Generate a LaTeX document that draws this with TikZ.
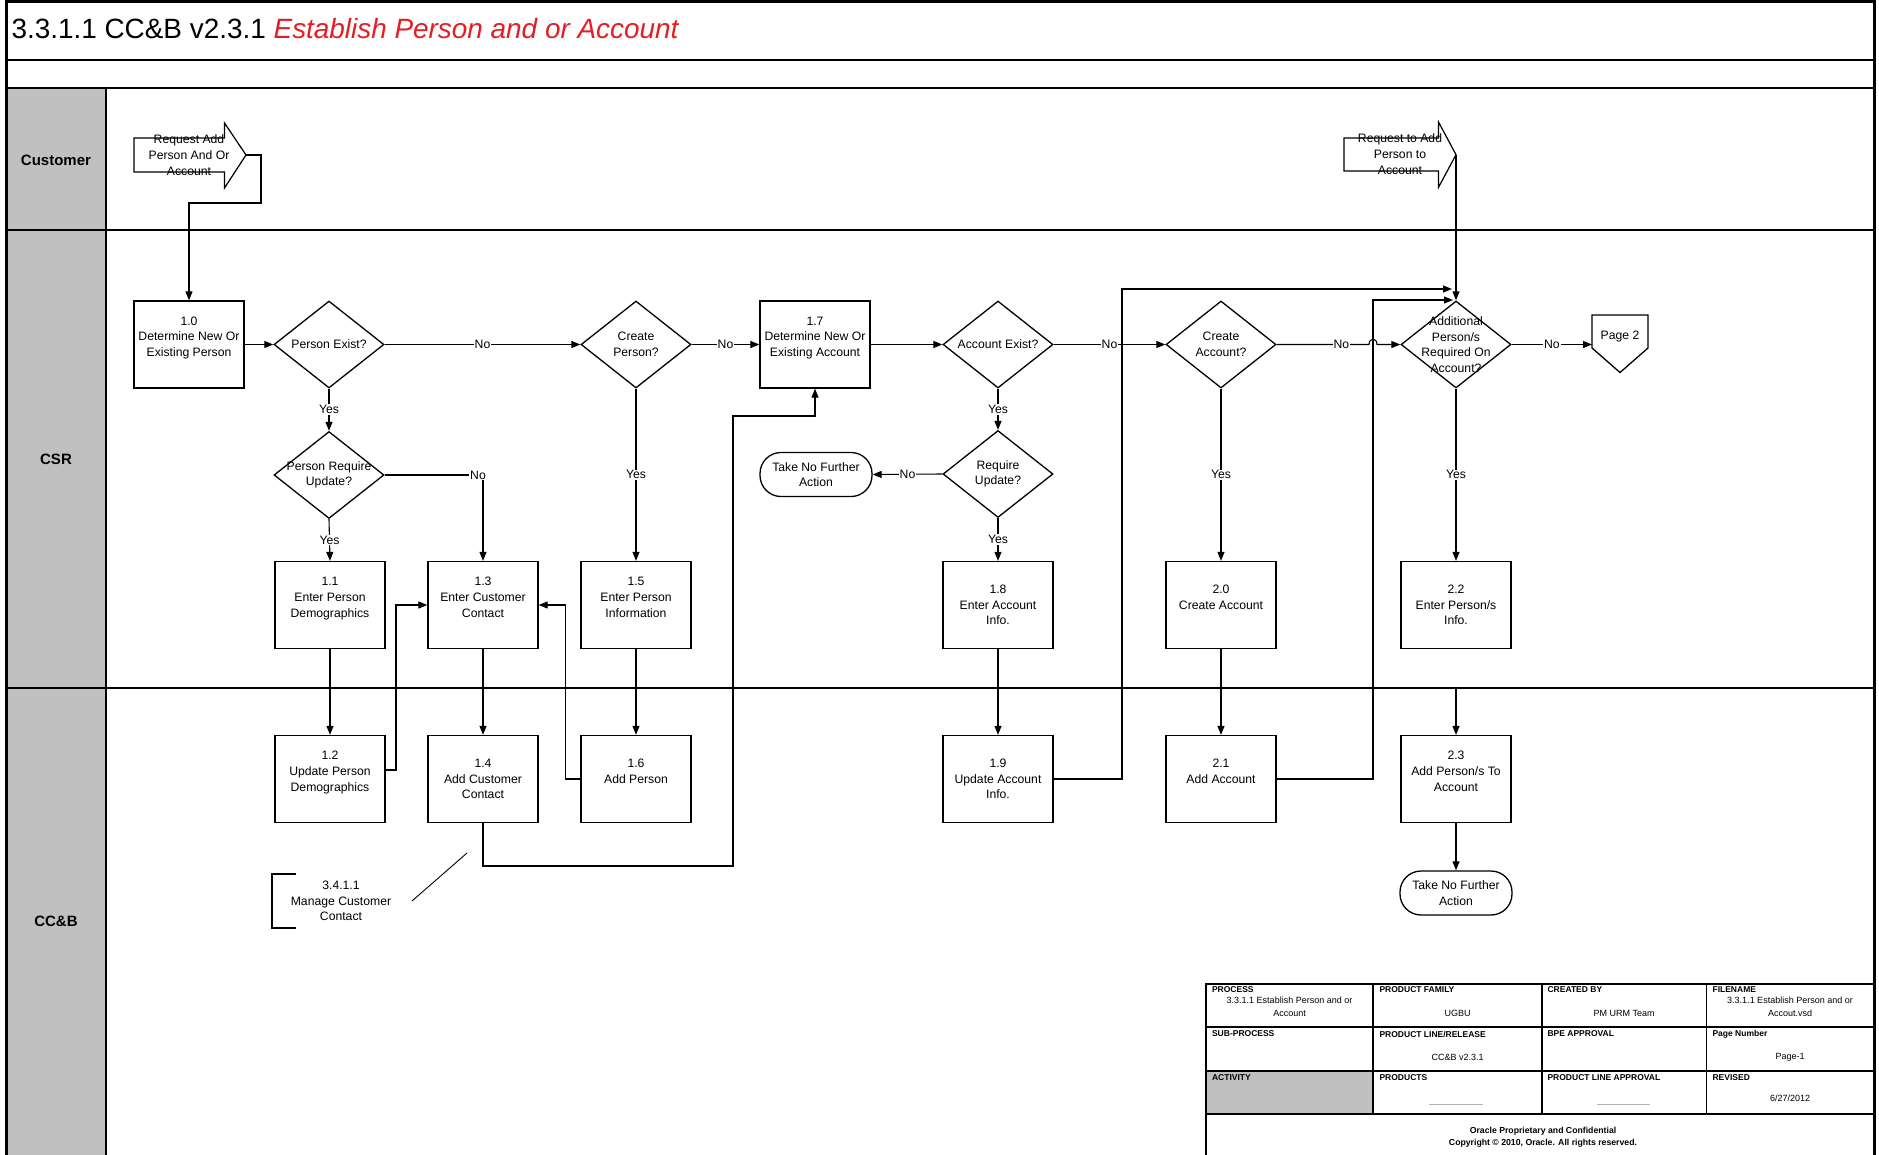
\documentclass[tikz,border=0pt]{standalone}
\usepackage{fontspec}
\setmainfont{Liberation Sans}
\usetikzlibrary{arrows.meta,shapes.geometric}
\definecolor{titlered}{HTML}{E31E24}
\definecolor{lanegray}{HTML}{C0C0C0}
\begin{document}
\begin{tikzpicture}[x=1pt,y=-1pt,line width=1.1pt,
  box/.style={draw,line width=1.3pt,minimum width=110pt,minimum height=87pt,inner sep=0pt,align=center,font=\fontsize{12.2}{15.6}\selectfont},
  dia/.style={draw,diamond,line width=1.3pt,minimum width=110pt,minimum height=87pt,inner sep=0pt},
  dtext/.style={align=center,font=\fontsize{12.2}{15.6}\selectfont,inner sep=0pt},
  term/.style={draw,line width=1.3pt,rounded corners=21pt,minimum width=112pt,minimum height=44pt,inner sep=0pt,align=center,font=\fontsize{12.2}{15.6}\selectfont},
  arr/.style={-{Triangle[length=9pt,width=7pt]},line width=1.1pt},
  lbl/.style={fill=white,inner sep=1pt,font=\fontsize{12.2}{14}\selectfont},
  lane/.style={font=\bfseries\fontsize{15}{18}\selectfont},
  hdr/.style={font=\bfseries\fontsize{8.5}{10}\selectfont,anchor=west,inner sep=0pt},
  val/.style={font=\fontsize{9}{12.7}\selectfont,align=center,inner sep=0pt},
  reqtext/.style={align=center,font=\fontsize{12.2}{16.3}\selectfont,inner sep=0pt},
]
\useasboundingbox (0,0) rectangle (1879,1154);
% lane header column
\fill[lanegray] (6,88) rectangle (106,1160);
\draw[line width=1.3pt] (6,60) -- (1874.5,60);
\draw[line width=1.3pt] (6,88) -- (1874.5,88);
\draw[line width=1.3pt] (6,230) -- (1874.5,230);
\draw[line width=1.3pt] (6,688) -- (1874.5,688);
\draw[line width=1.3pt] (106,88) -- (106,1160);
\draw[line width=3pt] (6,1.5) rectangle (1874.5,1160);
% title
\node[anchor=base west,inner sep=0pt,font=\fontsize{27.9}{30}\selectfont] (title) at (11,38) {3.3.1.1 CC\&B v2.3.1 \textcolor{titlered}{\itshape Establish Person and or Account}};
% lane labels
\node[lane] (lcust) at (56,160) {Customer};
\node[lane] (lcsr) at (56,459) {CSR};
\node[lane] (lccb) at (56,921) {CC\&B};
% request shapes
\draw[line width=1.2pt] (134,138) -- (224.5,138) -- (224.5,123) -- (246,155) -- (224.5,188) -- (224.5,172) -- (134,172) -- cycle;
\node[reqtext] (req1) at (189,155) {Request Add\\Person And Or\\Account};
\coordinate (req1tip) at (246,155);
\draw[line width=1.2pt] (1344,138) -- (1438.5,138) -- (1438.5,122) -- (1456,154.7) -- (1438.5,187.3) -- (1438.5,171) -- (1344,171) -- cycle;
\node[reqtext] (req2) at (1400,154) {Request to Add\\Person to\\Account};
\coordinate (req2tip) at (1456,154.7);
% boxes
\node[box] (b10) at (189,344.5) {1.0\\Determine New Or\\Existing Person\\\mbox{}};
\node[box] (b17) at (815,344.5) {1.7\\Determine New Or\\Existing Account\\\mbox{}};
\node[box] (b11) at (330,605) {1.1\\Enter Person\\Demographics\\\mbox{}};
\node[box] (b13) at (483,605) {1.3\\Enter Customer\\Contact\\\mbox{}};
\node[box] (b15) at (636,605) {1.5\\Enter Person\\Information\\\mbox{}};
\node[box] (b18) at (998,605) {1.8\\Enter Account\\Info.};
\node[box] (b20) at (1221,605) {2.0\\Create Account\\\mbox{}};
\node[box] (b22) at (1456,605) {2.2\\Enter Person/s\\Info.};
\node[box] (b12) at (330,779) {1.2\\Update Person\\Demographics\\\mbox{}};
\node[box] (b14) at (483,779) {1.4\\Add Customer\\Contact};
\node[box] (b16) at (636,779) {1.6\\Add Person\\\mbox{}};
\node[box] (b19) at (998,779) {1.9\\Update Account\\Info.};
\node[box] (b21) at (1221,779) {2.1\\Add Account\\\mbox{}};
\node[box] (b23) at (1456,779) {2.3\\Add Person/s To\\Account\\\mbox{}};
% decisions
\node[dia,label={[dtext]center:Person Exist?}] (pe) at (329,344.5) {};
\node[dia,label={[dtext]center:{Create\\Person?}}] (cp) at (636,344.5) {};
\node[dia,label={[dtext]center:{Person Require\\Update?}}] (pru) at (329,475) {};
\node[dia,label={[dtext]center:Account Exist?}] (ae) at (998,344.5) {};
\node[dia,label={[dtext]center:{Require\\Update?}}] (ru) at (998,474) {};
\node[dia,label={[dtext]center:{Create\\Account?}}] (ca) at (1221,344.5) {};
\node[dia,label={[dtext]center:{Additional\\Person/s\\Required On\\Account?}}] (add) at (1456,344.5) {};
% terminators
\node[term] (t1) at (816,474.5) {Take No Further\\Action};
\node[term] (t2) at (1456,893) {Take No Further\\Action};
% off-page
\draw[line width=1.3pt] (1592,315) -- (1648,315) -- (1648,348) -- (1620,372.5) -- (1592,348) -- cycle;
\node[dtext] (p2) at (1620,337) {Page 2};
\coordinate (p2w) at (1592,344.5);
% annotation
\draw[line width=1.1pt] (296,874) -- (272,874) -- (272,928) -- (296,928);
\node[dtext] (ann) at (341,901) {3.4.1.1\\Manage Customer\\Contact};
\coordinate (annA) at (412,901);
\coordinate (annB) at (467,853);
\draw[line width=0.9pt] (annA) -- (annB);
% merge points
\coordinate (m1) at (1452,289);
\coordinate (m2) at (1453,300);
\coordinate (l23) at (1456,688);
% connectors
\draw[arr] (req1tip) -- (261,155) -- (261,203) -- (189,203) -- (b10.north);
\draw[arr] (b10.east) -- (pe.west);
\draw[arr] (pe.east) -- node[lbl] (n1) {No} (cp.west);
\draw[arr] (cp.east) -- node[lbl] (n2) {No} (b17.west);
\draw[arr] (pe.south) -- node[lbl] (n3) {Yes} (pru.north);
\draw[arr] (pru.east) -- (483,475) node[lbl,xshift=-5pt] (n4) {No} -- (b13.north);
\draw[arr] (pru.south) -- node[lbl] (n5) {Yes} (b11.north);
\draw[arr] (cp.south) -- node[lbl] (n6) {Yes} (b15.north);
\draw[arr] (b11.south) -- (b12.north);
\draw[arr] ([yshift=9pt]b12.east) -- (396,770) -- (396,605) -- (b13.west);
\draw[arr] (b13.south) -- (b14.north);
\draw[arr] (b15.south) -- (b16.north);
\draw[arr] (b16.west) -- (565.5,779) -- (565.5,605) -- (b13.east);
\draw[arr] (b14.south) -- (483,866) -- (733,866) -- (733,416) -- (815,416) -- (b17.south);
\draw[arr] (b17.east) -- (ae.west);
\draw[arr] (ae.east) -- node[lbl] (n7) {No} (ca.west);
\draw[arr] (ca.east) -- node[lbl,pos=0.7] (n8) {No} (1369,344.5) .. controls (1369,337.5) and (1377,337.5) .. (1377,344.5) -- (add.west);
\draw[arr] (add.east) -- node[lbl] (n9) {No} (p2w);
\draw[arr] (ae.south) -- node[lbl] (n10) {Yes} (ru.north);
\draw[arr] (ru.west) -- node[lbl] (n11) {No} (t1.east);
\draw[arr] (ru.south) -- node[lbl] (n12) {Yes} (b18.north);
\draw[arr] (ca.south) -- node[lbl] (n13) {Yes} (b20.north);
\draw[arr] (b18.south) -- (b19.north);
\draw[arr] (b20.south) -- (b21.north);
\draw[arr] (b19.east) -- (1122,779) -- (1122,289) -- (m1);
\draw[arr] (b21.east) -- (1373,779) -- (1373,300) -- (m2);
\draw[arr] (req2tip) -- (add.north);
\draw[arr] (add.south) -- node[lbl] (n14) {Yes} (b22.north);
\draw[arr] (l23) -- (b23.north);
\draw[arr] (b23.south) -- (t2.north);
% title block
\fill[lanegray] (1206,1071) rectangle (1373,1114);
\draw[line width=1.3pt] (1206,984) rectangle (1874.5,1160);
\draw[line width=1.3pt] (1206,1027) -- (1874.5,1027);
\draw[line width=1.3pt] (1206,1071) -- (1874.5,1071);
\draw[line width=1.3pt] (1206,1114) -- (1874.5,1114);
\draw[line width=1.3pt] (1373,984) -- (1373,1114);
\draw[line width=1.3pt] (1542,984) -- (1542,1114);
\draw[line width=1.3pt] (1706.5,984) -- (1706.5,1114);
\node[hdr] (h1) at (1211.5,990) {PROCESS};
\node[hdr] (h2) at (1379,990) {PRODUCT FAMILY};
\node[hdr] (h3) at (1547,990) {CREATED BY};
\node[hdr] (h4) at (1712,990) {FILENAME};
\node[hdr] (h5) at (1211.5,1034) {SUB-PROCESS};
\node[hdr] (h6) at (1379,1034) {PRODUCT LINE/RELEASE};
\node[hdr] (h7) at (1547,1034) {BPE APPROVAL};
\node[hdr] (h8) at (1712,1034) {Page Number};
\node[hdr] (h9) at (1211.5,1078) {ACTIVITY};
\node[hdr] (h10) at (1379,1078) {PRODUCTS};
\node[hdr] (h11) at (1547,1078) {PRODUCT LINE APPROVAL};
\node[hdr] (h12) at (1712,1078) {REVISED};
\node[val] (v1) at (1289.5,1007) {3.3.1.1 Establish Person and or\\Account};
\node[val] (v2) at (1457.5,1013) {UGBU};
\node[val] (v3) at (1624,1013) {PM URM Team};
\node[val] (v4) at (1790,1007) {3.3.1.1 Establish Person and or\\Accout.vsd};
\node[val] (v5) at (1457.5,1057) {CC\&B v2.3.1};
\node[val] (v6) at (1790,1057) {Page-1};
\node[val] (v7) at (1790,1098.5) {6/27/2012};
\draw[gray!60,line width=1pt] (1429,1104) -- (1483,1104);
\draw[gray!60,line width=1pt] (1597,1104) -- (1650,1104);
\node[val,font=\bfseries\fontsize{8.7}{12.3}\selectfont] (foot) at (1543,1137) {Oracle Proprietary and Confidential\\Copyright © 2010, Oracle. All rights reserved.};
\end{tikzpicture}
\end{document}
